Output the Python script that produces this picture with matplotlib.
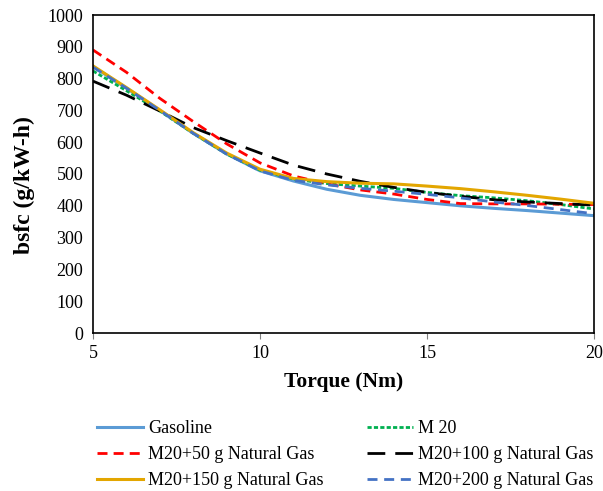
import matplotlib.pyplot as plt

plt.rcParams['font.family'] = ['Liberation Serif', 'DejaVu Serif']

torque = [5, 6, 7, 8, 9, 10, 11, 12, 13, 14, 15, 16, 17, 18, 19, 20]
gasoline = [838, 770, 700, 628, 563, 510, 478, 452, 433, 420, 410, 400, 392, 385, 377, 369]
m20 = [824, 762, 698, 628, 563, 512, 484, 470, 462, 455, 442, 432, 425, 416, 404, 390]
m20_50 = [890, 820, 738, 665, 595, 535, 494, 469, 450, 437, 420, 407, 406, 406, 405, 404]
m20_100 = [792, 748, 698, 646, 605, 566, 528, 500, 477, 458, 442, 430, 419, 412, 407, 402]
m20_150 = [840, 772, 702, 630, 566, 515, 486, 476, 471, 469, 462, 454, 444, 433, 421, 408]
m20_200 = [836, 770, 700, 628, 563, 510, 480, 466, 455, 446, 436, 425, 412, 401, 388, 375]

fig = plt.figure(figsize=(6.03, 4.91), dpi=100)
ax = fig.add_axes([93/603, 1 - 333/491, 501/603, 318/491])

l1, = ax.plot(torque, gasoline, color='#5B9BD5', lw=2.2, label='Gasoline')
l2, = ax.plot(torque, m20, color='#00B050', lw=2, ls=(0, (1.5, 0.8)), label='M 20')
l3, = ax.plot(torque, m20_50, color='#FF0000', lw=2, ls=(0, (3.6, 2.2)), label='M20+50 g Natural Gas')
l4, = ax.plot(torque, m20_100, color='black', lw=2, ls=(0, (6.4, 3.6)), label='M20+100 g Natural Gas')
l5, = ax.plot(torque, m20_150, color='#E3A600', lw=2.2, label='M20+150 g Natural Gas')
l6, = ax.plot(torque, m20_200, color='#4472C4', lw=2, ls=(0, (3.6, 2.4)), label='M20+200 g Natural Gas')

ax.set_xlim(5, 20)
ax.set_ylim(0, 1000)
ax.set_xticks([5, 10, 15, 20])
ax.set_yticks(range(0, 1001, 100))
ax.tick_params(labelsize=13, pad=7)
ax.tick_params(axis='x', length=4, color='#808080', pad=5)
ax.tick_params(axis='y', length=0)
for s in ax.spines.values():
    s.set_color('black')
    s.set_linewidth(1.2)

ax.set_xlabel('Torque (Nm)', fontsize=15.5, fontweight='bold', labelpad=7)
ax.set_ylabel('bsfc (g/kW-h)', fontsize=17, fontweight='bold')
ax.yaxis.set_label_coords(-0.116, 0.465)

# legend is filled column by column, so order the handles for row-wise reading
handles = [l1, l3, l5, l2, l4, l6]
fig.legend(handles=handles, labels=[h.get_label() for h in handles],
           loc='upper left', bbox_to_anchor=(81/603, 1 - 404/491), ncol=2,
           frameon=False, fontsize=13, handlelength=2.55, handletextpad=0.28,
           columnspacing=2.38, labelspacing=0.5)

fig.savefig('out.png', dpi=100)
